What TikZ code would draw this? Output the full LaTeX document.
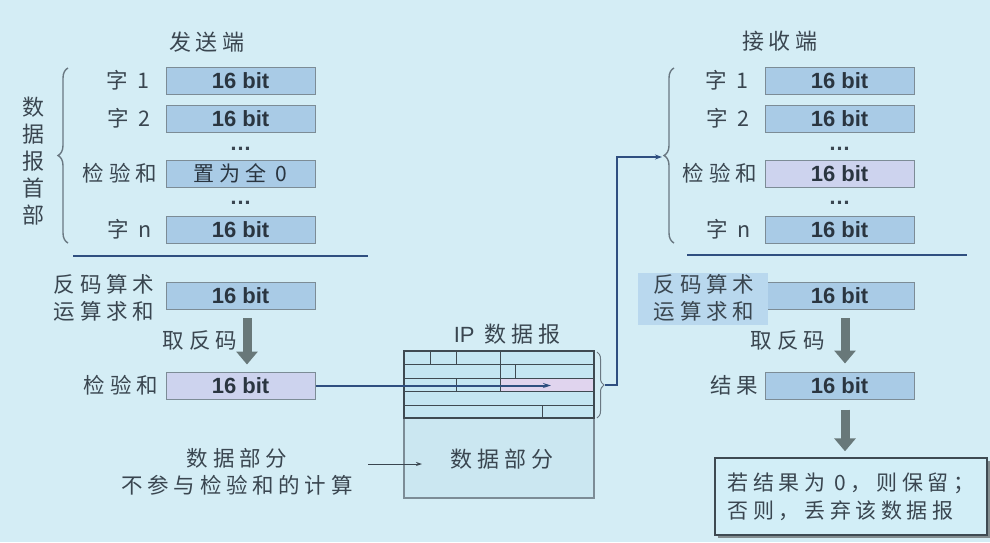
\documentclass[tikz,border=0pt]{standalone}
\usepackage{fontspec}
\setmainfont{Liberation Sans}
\newfontfamily\cjk[LetterSpace=22]{Noto Sans CJK SC}
\usetikzlibrary{arrows.meta,decorations.pathreplacing,shadows}
\definecolor{bgc}{HTML}{D4EDF5}
\definecolor{boxc}{HTML}{A9CBE6}
\definecolor{lavc}{HTML}{CDD3EE}
\definecolor{edgec}{HTML}{7C8C96}
\definecolor{bracec}{HTML}{6A7882}
\definecolor{txtc}{HTML}{3A4650}
\definecolor{bittc}{HTML}{2A3540}
\definecolor{linec}{HTML}{2F4F80}
\definecolor{arrc}{HTML}{687879}
\definecolor{pinkc}{HTML}{E0D4EE}
\definecolor{hlc}{HTML}{B9D8EE}
\definecolor{ipc}{HTML}{C4E6F2}
\definecolor{ipd}{HTML}{CBE7F1}
\definecolor{ipedge}{HTML}{3E4A52}
\definecolor{finc}{HTML}{D2EEF7}
\tikzset{
  bitbox/.style={draw=edgec, line width=1pt, fill=boxc, minimum width=149pt, minimum height=27pt, inner sep=0pt, text=bittc, font=\bfseries\fontsize{22}{22}\selectfont},
  lavbox/.style={bitbox, fill=lavc},
  lbl/.style={anchor=east, inner sep=0pt, text=txtc, font=\cjk\fontsize{21.5}{26}\selectfont},
  ttl/.style={inner sep=0pt, text=txtc, font=\cjk\fontsize{22}{26}\selectfont},
  ctext/.style={inner sep=0pt, text=txtc, align=center, font=\cjk\fontsize{21.5}{27}\selectfont},
  dotn/.style={inner sep=0pt, text=txtc, font=\bfseries\fontsize{22}{22}\selectfont},
  bracepath/.style={draw=bracec, line width=1.4pt, decorate},
  sepline/.style={draw=linec, line width=2pt},
  conn/.style={draw=linec, line width=2pt},
  fatarrow/.style={draw=arrc, line width=9pt, -{Triangle[length=13pt,width=21pt]}},
  ipline/.style={draw=ipedge, line width=0.8pt},
}
\begin{document}
\begin{tikzpicture}[x=1pt,y=-1pt]
\fill[bgc] (0,0) rectangle (990,542);
\useasboundingbox (0,0) rectangle (990,542);

% ---------------- sender ----------------
\node[ttl] (stitle) at (207,42) {发送端};
\node[bitbox] (s1) at (240.5,80.5) {16 bit};
\node[bitbox] (s2) at (240.5,118.5) {16 bit};
\node[dotn] (sd1) at (240.5,149) {…};
\node[bitbox,font=\cjk\fontsize{21}{21}\selectfont] (sc) at (240.5,173.5) {置为全 0};
\node[dotn] (sd2) at (240.5,203) {…};
\node[bitbox] (sn) at (240.5,229.5) {16 bit};
\node[lbl] (s1l) at (150,80.5) {字 1};
\node[lbl] (s2l) at (151,118.5) {字 2};
\node[lbl] (scl) at (157,173.5) {检验和};
\node[lbl] (snl) at (152,229.5) {字 n};
\draw[bracepath, decoration={brace, amplitude=10pt}] (68,243) -- (68,68);
\node[ctext, font=\cjk\fontsize{22}{27.2}\selectfont] (vt) at (33,161) {数\\据\\报\\首\\部};
\draw[sepline] (73,255.5) -- (368,255.5);

\node[bitbox] (ssum) at (240.5,296) {16 bit};
\node[ctext, align=left] (ssuml) at (104,298) {反码算术\\运算求和};
\node[lavbox] (sck) at (240.5,385.5) {16 bit};
\node[lbl] (sckl) at (158,385.5) {检验和};
\draw[fatarrow] ([xshift=6.5pt]ssum.south) ++(0,8) -- ([xshift=6.5pt,yshift=7pt]sck.north);
\node[lbl] (sinv) at (237,340) {取反码};

\node[ctext] (sdata) at (237,472) {数据部分\\不参与检验和的计算};

% ---------------- IP datagram ----------------
\node[ttl] (iptitle) at (507,334) {\fontspec{Liberation Sans}IP\hspace{10pt}\cjk 数据报};
\node[draw=edgec, line width=1.2pt, fill=ipd, minimum width=190pt, minimum height=80pt, inner sep=0pt] (ipdata) at (499,458) {};
\node[ctext, font=\cjk\fontsize{22}{26}\selectfont] (ipdl) at (502,459) {数据部分};
\coordinate (sdarrs) at (368,464);
\coordinate (sdarre) at (422,464);
\draw[draw=txtc, line width=0.9pt, -{Stealth[length=6pt,width=4pt]}] (sdarrs) -- (sdarre);
\node[fill=ipc, minimum width=190pt, minimum height=67pt, inner sep=0pt] (iph) at (499,384.5) {};
\fill[pinkc] (500,378) rectangle (594,392);
\draw[ipline] (404,364.5) -- (594,364.5);
\draw[ipline] (404,378) -- (594,378);
\draw[ipline] (404,391.5) -- (594,391.5);
\draw[ipline] (404,405) -- (594,405);
\draw[ipline] (430,351) -- (430,364.5);
\draw[ipline] (456,351) -- (456,364.5);
\draw[ipline] (500,351) -- (500,391.5);
\draw[ipline] (515,364.5) -- (515,378);
\draw[ipline] (456,378) -- (456,391.5);
\draw[ipline] (542,405) -- (542,418);
\draw[draw=ipedge, line width=1.6pt] (iph.north west) rectangle (iph.south east);
\draw[bracepath, line width=1pt, decoration={brace, amplitude=7pt}] (597,352) -- (597,418);
\coordinate (iptip) at (605,385);
\coordinate (ipck) at (551,385.5);
\draw[conn, -{Stealth[length=8pt,width=5pt]}] (sck.east) -- (ipck);

% ---------------- receiver ----------------
\node[ttl] (rtitle) at (780,41) {接收端};
\node[bitbox] (r1) at (839.5,80.5) {16 bit};
\node[bitbox] (r2) at (839.5,118.5) {16 bit};
\node[dotn] (rd1) at (839.5,149) {…};
\node[lavbox] (rc) at (839.5,173.5) {16 bit};
\node[dotn] (rd2) at (839.5,203) {…};
\node[bitbox] (rn) at (839.5,229.5) {16 bit};
\node[lbl] (r1l) at (749,80.5) {字 1};
\node[lbl] (r2l) at (750,118.5) {字 2};
\node[lbl] (rcl) at (757,173.5) {检验和};
\node[lbl] (rnl) at (751,229.5) {字 n};
\draw[bracepath, decoration={brace, amplitude=10pt}] (674,243) -- (674,68);
\coordinate (rtip) at (662,157);
\draw[conn, -{Stealth[length=7pt,width=5pt]}] (iptip) -- (617,385) |- (rtip);
\draw[sepline] (687,255) -- (967,255);

\node[bitbox] (rsum) at (839.5,296) {16 bit};
\fill[hlc] (638,273) rectangle (768,325);
\node[ctext, align=left] (rsuml) at (704,298) {反码算术\\运算求和};
\node[bitbox] (rres) at (839.5,385.5) {16 bit};
\node[lbl] (rresl) at (758,385.5) {结果};
\draw[fatarrow] ([xshift=5.5pt]rsum.south) ++(0,8) -- ([xshift=5.5pt,yshift=8pt]rres.north);
\node[lbl] (rinv) at (825,340) {取反码};
\node[draw=ipedge, line width=1.4pt, fill=finc, minimum width=272pt, minimum height=77pt, inner sep=0pt, align=left, text=txtc, font=\cjk\fontsize{21}{28}\selectfont, drop shadow={shadow xshift=3pt, shadow yshift=-3pt, fill=black!70, opacity=0.6}] (fin) at (851,496.5) {若结果为 0，则保留；\\否则，丢弃该数据报};
\draw[fatarrow] ([xshift=5.5pt,yshift=-10pt]rres.south) -- ([xshift=-6pt,yshift=6pt]fin.north);
\end{tikzpicture}
\end{document}
